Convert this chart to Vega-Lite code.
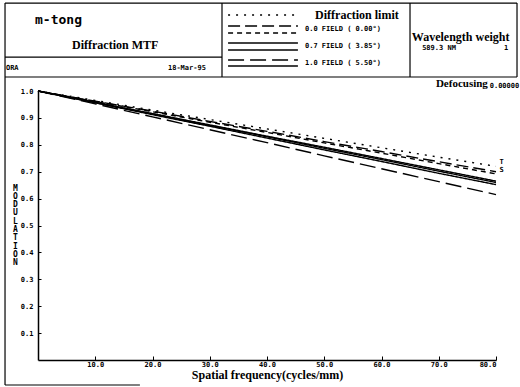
{
  "$schema": "https://vega.github.io/schema/vega-lite/v6.json",
  "width": 458,
  "height": 269,
  "autosize": {"type": "none"},
  "padding": {"left": 38, "top": 91, "right": 24, "bottom": 27},
  "background": "white",
  "config": {"view": {"stroke": null}},
  "datasets": {
    "curves": [
      {"series": "DL", "nu": 0, "mtf": 1.0}, {"series": "DL", "nu": 10, "mtf": 0.965}, {"series": "DL", "nu": 20, "mtf": 0.929}, {"series": "DL", "nu": 30, "mtf": 0.894}, {"series": "DL", "nu": 40, "mtf": 0.859}, {"series": "DL", "nu": 50, "mtf": 0.824}, {"series": "DL", "nu": 60, "mtf": 0.789}, {"series": "DL", "nu": 70, "mtf": 0.754}, {"series": "DL", "nu": 80, "mtf": 0.72},
      {"series": "F0_T", "nu": 0, "mtf": 1.0}, {"series": "F0_T", "nu": 10, "mtf": 0.962}, {"series": "F0_T", "nu": 20, "mtf": 0.925}, {"series": "F0_T", "nu": 30, "mtf": 0.887}, {"series": "F0_T", "nu": 40, "mtf": 0.85}, {"series": "F0_T", "nu": 50, "mtf": 0.812}, {"series": "F0_T", "nu": 60, "mtf": 0.775}, {"series": "F0_T", "nu": 70, "mtf": 0.737}, {"series": "F0_T", "nu": 80, "mtf": 0.7},
      {"series": "F0_S", "nu": 0, "mtf": 1.0}, {"series": "F0_S", "nu": 10, "mtf": 0.961}, {"series": "F0_S", "nu": 20, "mtf": 0.923}, {"series": "F0_S", "nu": 30, "mtf": 0.884}, {"series": "F0_S", "nu": 40, "mtf": 0.846}, {"series": "F0_S", "nu": 50, "mtf": 0.807}, {"series": "F0_S", "nu": 60, "mtf": 0.769}, {"series": "F0_S", "nu": 70, "mtf": 0.73}, {"series": "F0_S", "nu": 80, "mtf": 0.692},
      {"series": "F07_T", "nu": 0, "mtf": 1.0}, {"series": "F07_T", "nu": 10, "mtf": 0.957}, {"series": "F07_T", "nu": 20, "mtf": 0.915}, {"series": "F07_T", "nu": 30, "mtf": 0.872}, {"series": "F07_T", "nu": 40, "mtf": 0.83}, {"series": "F07_T", "nu": 50, "mtf": 0.787}, {"series": "F07_T", "nu": 60, "mtf": 0.745}, {"series": "F07_T", "nu": 70, "mtf": 0.702}, {"series": "F07_T", "nu": 80, "mtf": 0.66},
      {"series": "F07_S", "nu": 0, "mtf": 1.0}, {"series": "F07_S", "nu": 10, "mtf": 0.956}, {"series": "F07_S", "nu": 20, "mtf": 0.912}, {"series": "F07_S", "nu": 30, "mtf": 0.869}, {"series": "F07_S", "nu": 40, "mtf": 0.825}, {"series": "F07_S", "nu": 50, "mtf": 0.781}, {"series": "F07_S", "nu": 60, "mtf": 0.738}, {"series": "F07_S", "nu": 70, "mtf": 0.694}, {"series": "F07_S", "nu": 80, "mtf": 0.652},
      {"series": "F10_T", "nu": 0, "mtf": 1.0}, {"series": "F10_T", "nu": 10, "mtf": 0.952}, {"series": "F10_T", "nu": 20, "mtf": 0.904}, {"series": "F10_T", "nu": 30, "mtf": 0.856}, {"series": "F10_T", "nu": 40, "mtf": 0.808}, {"series": "F10_T", "nu": 50, "mtf": 0.759}, {"series": "F10_T", "nu": 60, "mtf": 0.711}, {"series": "F10_T", "nu": 70, "mtf": 0.663}, {"series": "F10_T", "nu": 80, "mtf": 0.615},
      {"series": "F10_S", "nu": 0, "mtf": 1.0}, {"series": "F10_S", "nu": 10, "mtf": 0.958}, {"series": "F10_S", "nu": 20, "mtf": 0.916}, {"series": "F10_S", "nu": 30, "mtf": 0.874}, {"series": "F10_S", "nu": 40, "mtf": 0.832}, {"series": "F10_S", "nu": 50, "mtf": 0.791}, {"series": "F10_S", "nu": 60, "mtf": 0.749}, {"series": "F10_S", "nu": 70, "mtf": 0.707}, {"series": "F10_S", "nu": 80, "mtf": 0.665}
    ],
    "keyLines": [
      {"series": "DL", "x0": 33.2, "x1": 45.4, "y": 1.2825},
      {"series": "F0_T", "x0": 33.2, "x1": 45.4, "y": 1.2416},
      {"series": "F0_S", "x0": 33.2, "x1": 45.4, "y": 1.2156},
      {"series": "F07_T", "x0": 33.2, "x1": 45.4, "y": 1.1784},
      {"series": "F07_S", "x0": 33.2, "x1": 45.4, "y": 1.1524},
      {"series": "F10_T", "x0": 33.2, "x1": 45.4, "y": 1.1152},
      {"series": "F10_S", "x0": 33.2, "x1": 45.4, "y": 1.0929}
    ],
    "frame": [
      {"x0": -5.76, "x1": 83.67, "y0": 1.327, "y1": 1.327},
      {"x0": -5.76, "x1": 32.14, "y0": 1.126, "y1": 1.126},
      {"x0": -5.76, "x1": 83.67, "y0": 1.052, "y1": 1.052},
      {"x0": 32.14, "x1": 32.14, "y0": 1.052, "y1": 1.327},
      {"x0": 64.98, "x1": 64.98, "y0": 1.052, "y1": 1.327},
      {"x0": 83.67, "x1": 83.67, "y0": 1.052, "y1": 1.327},
      {"x0": -5.76, "x1": -5.76, "y0": -0.093, "y1": 1.327},
      {"x0": -5.76, "x1": 17.8, "y0": -0.093, "y1": -0.093}
    ],
    "serifText": [
      {"x": 5.94, "y": 1.171, "label": "Diffraction MTF"},
      {"x": 48.4, "y": 1.2825, "label": "Diffraction limit"},
      {"x": 65.3, "y": 1.2007, "label": "Wavelength  weight"}
    ],
    "serifSmall": [
      {"x": 69.5, "y": 1.026, "label": "Defocusing"}
    ],
    "bigMono": [
      {"x": -0.52, "y": 1.264, "label": "m-tong"}
    ],
    "smallMono": [
      {"x": -5.6, "y": 1.0855, "label": "ORA"},
      {"x": 22.7, "y": 1.0855, "label": "18-Mar-95"},
      {"x": 46.64, "y": 1.2305, "label": "0.0 FIELD ( 0.00°)"},
      {"x": 46.64, "y": 1.1673, "label": "0.7 FIELD ( 3.85°)"},
      {"x": 46.64, "y": 1.1041, "label": "1.0 FIELD ( 5.50°)"},
      {"x": 67.1, "y": 1.16, "label": "589.3 NM"},
      {"x": 81.4, "y": 1.16, "label": "1"},
      {"x": 78.9, "y": 1.02, "label": "0.00000"},
      {"x": 80.6, "y": 0.735, "label": "T"},
      {"x": 80.6, "y": 0.705, "label": "S"}
    ]
  },
  "encoding": {
    "x": {
      "type": "quantitative",
      "scale": {"domain": [0, 80], "nice": false, "zero": false},
      "axis": {
        "title": "Spatial frequency(cycles/mm)",
        "titleFont": "Liberation Serif", "titleFontSize": 12, "titleFontWeight": "bold", "titleColor": "black",
        "titlePadding": 2,
        "values": [10, 20, 30, 40, 50, 60, 70, 80], "format": ".1f",
        "labelFont": "DejaVu Sans Mono", "labelFontSize": 7, "labelFontWeight": "bold", "labelColor": "black",
        "labelPadding": 4,
        "tickSize": -4, "tickColor": "black", "domainColor": "black", "domainWidth": 1.5,
        "grid": false
      }
    },
    "y": {
      "type": "quantitative",
      "scale": {"domain": [0, 1], "nice": false, "zero": false},
      "axis": {
        "title": ["M", "O", "D", "U", "L", "A", "T", "I", "O", "N"],
        "titleFont": "DejaVu Sans Mono", "titleFontSize": 8, "titleFontWeight": "bold", "titleColor": "black",
        "titleAngle": 0, "titleX": -23, "titleY": 93, "titleAlign": "center", "titleBaseline": "top", "titleLineHeight": 8.3,
        "values": [0.1, 0.2, 0.3, 0.4, 0.5, 0.6, 0.7, 0.8, 0.9, 1.0], "format": ".1f",
        "labelFont": "DejaVu Sans Mono", "labelFontSize": 7, "labelFontWeight": "bold", "labelColor": "black",
        "labelPadding": 8,
        "tickSize": -3, "tickColor": "black", "domainColor": "black", "domainWidth": 1.5,
        "grid": false
      }
    }
  },
  "layer": [
    {
      "data": {"name": "curves"},
      "mark": {"type": "line", "color": "black", "strokeWidth": 1.4},
      "encoding": {
        "x": {"field": "nu"},
        "y": {"field": "mtf"},
        "strokeDash": {
          "field": "series", "type": "nominal",
          "scale": {
            "domain": ["DL", "F0_T", "F0_S", "F07_T", "F07_S", "F10_T", "F10_S"],
            "range": [[2, 6], [12, 5], [5, 4], [1, 0], [1, 0], [16, 6], [1, 0]]
          },
          "legend": null
        },
        "detail": {"field": "series"}
      }
    },
    {
      "data": {"name": "keyLines"},
      "mark": {"type": "rule", "color": "black", "strokeWidth": 1.3, "clip": false},
      "encoding": {
        "x": {"field": "x0"},
        "x2": {"field": "x1"},
        "y": {"field": "y"},
        "strokeDash": {"field": "series", "type": "nominal", "legend": null}
      }
    },
    {
      "data": {"name": "frame"},
      "mark": {"type": "rule", "color": "black", "strokeWidth": 1.2, "clip": false},
      "encoding": {
        "x": {"field": "x0"},
        "x2": {"field": "x1"},
        "y": {"field": "y0"},
        "y2": {"field": "y1"}
      }
    },
    {
      "data": {"name": "serifText"},
      "mark": {"type": "text", "font": "Liberation Serif", "fontSize": 12, "fontWeight": "bold", "color": "black", "align": "left", "baseline": "middle", "clip": false},
      "encoding": {
        "x": {"field": "x"},
        "y": {"field": "y"},
        "text": {"field": "label"}
      }
    },
    {
      "data": {"name": "serifSmall"},
      "mark": {"type": "text", "font": "Liberation Serif", "fontSize": 11, "fontWeight": "bold", "color": "black", "align": "left", "baseline": "middle", "clip": false},
      "encoding": {
        "x": {"field": "x"},
        "y": {"field": "y"},
        "text": {"field": "label"}
      }
    },
    {
      "data": {"name": "bigMono"},
      "mark": {"type": "text", "font": "DejaVu Sans Mono", "fontSize": 13, "fontWeight": "bold", "color": "black", "align": "left", "baseline": "middle", "clip": false},
      "encoding": {
        "x": {"field": "x"},
        "y": {"field": "y"},
        "text": {"field": "label"}
      }
    },
    {
      "data": {"name": "smallMono"},
      "mark": {"type": "text", "font": "DejaVu Sans Mono", "fontSize": 7, "fontWeight": "bold", "color": "black", "align": "left", "baseline": "middle", "clip": false},
      "encoding": {
        "x": {"field": "x"},
        "y": {"field": "y"},
        "text": {"field": "label"}
      }
    }
  ]
}
